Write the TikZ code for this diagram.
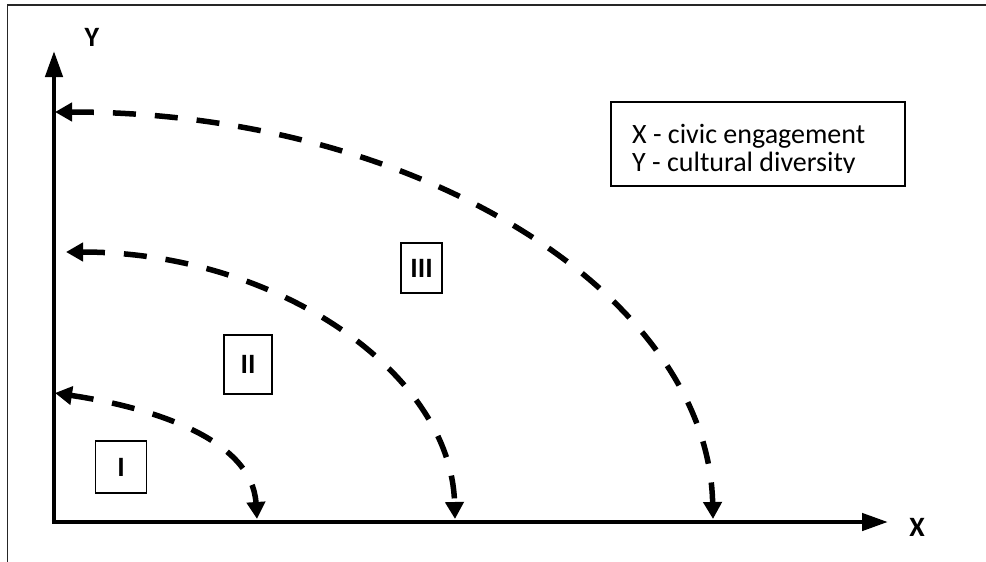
\documentclass[tikz,border=0pt]{standalone}
\usepackage{fontspec}
\setmainfont{Carlito}
\usetikzlibrary{arrows.meta}
\begin{document}
\begin{tikzpicture}[x=1pt,y=-1pt,
  frameline/.style={line width=1.5pt,black!85},
  axisline/.style={line width=4.5pt,-{Triangle[length=26pt,width=17pt]}},
  arcline/.style={line width=5.5pt,dash pattern=on 23pt off 19pt,
    {Triangle[length=17pt,width=18pt]}-{Triangle[length=17pt,width=18pt]}},
  regionbox/.style={draw,line width=1.5pt,font=\fontsize{28}{32}\selectfont\bfseries},
  axislabel/.style={font=\fontsize{28}{32}\selectfont\bfseries},
  legendtext/.style={anchor=base west,inner sep=0pt,font=\fontsize{28}{32}\selectfont}]
\useasboundingbox (0,0) rectangle (986,562);
% frame
\coordinate (ftl) at (7.5,5);
\coordinate (ftr) at (986,5);
\coordinate (fbl) at (7.5,562);
\draw[frameline] (fbl) -- (ftl) -- (ftr);
% axes
\coordinate (O) at (54,522);
\coordinate (ytip) at (54,51);
\coordinate (xtip) at (888,522);
\draw[axisline] (O) -- (ytip);
\draw[axisline] ([xshift=-2.25pt]O) -- (xtip);
\node[axislabel] (ylab) at (92,37) {Y};
\node[axislabel] (xlab) at (917,527) {X};
% arcs
\coordinate (y3) at (55,112);
\coordinate (x3) at (713,519);
\draw[arcline] (y3) .. controls (418,112) and (708,295) .. (x3);
\coordinate (y2) at (66,252);
\coordinate (x2) at (455,519);
\draw[arcline] (y2) .. controls (276,252) and (451,372) .. (x2);
\coordinate (y1) at (55,393);
\coordinate (x1) at (257,519);
\draw[arcline] (y1) .. controls (155,408) and (252,440) .. (x1);
% region boxes
\node[regionbox,minimum width=51pt,minimum height=52pt] (r1) at (121,467) {I};
\node[regionbox,minimum width=48pt,minimum height=59pt] (r2) at (248,364.5) {II};
\node[regionbox,minimum width=41pt,minimum height=50pt] (r3) at (421.5,268) {III};
% legend
\node[draw,line width=1.5pt,minimum width=294pt,minimum height=84pt] (legend) at (758,144) {};
\begin{scope}
\clip (611,100) rectangle (905,172.5);
\node[legendtext] (lx) at (632,143) {X - civic engagement};
\node[legendtext] (ly) at (632,171.5) {Y - cultural diversity};
\end{scope}
\end{tikzpicture}
\end{document}
